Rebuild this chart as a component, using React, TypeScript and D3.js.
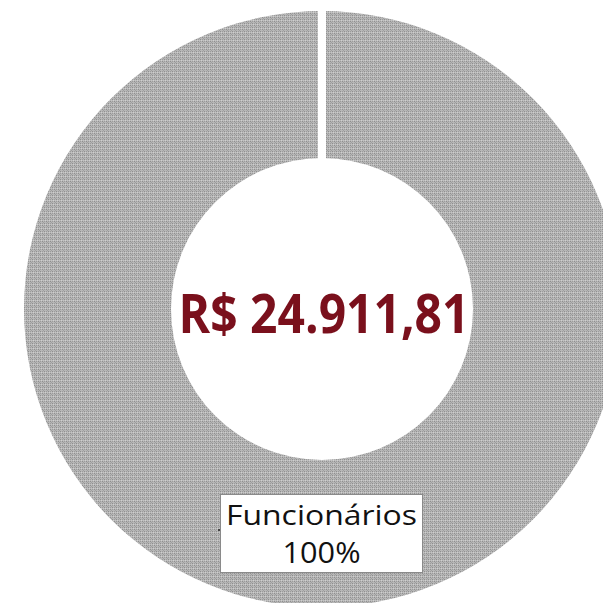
import React from "react";
import * as d3 from "d3";

const categories = ["Funcionários"];
const values = [24911.81];
const totalLabel = "R$ 24.911,81";

const W = 603;
const H = 603;
const cx = 322;
const cy = 309;
const outerR = 298;
const innerR = 151;

export default function App() {
  const pie = d3.pie<number>().sort(null).startAngle(0).endAngle(2 * Math.PI)(values);
  const arc = d3.arc<d3.PieArcDatum<number>>().innerRadius(innerR).outerRadius(outerR);
  const total = d3.sum(values);
  const pct = (v: number) => d3.format(".0%")(v / total);
  return (
    <svg
      width={W}
      height={H}
      style={{ position: "absolute", left: 0, top: 0, background: "#fff" }}
    >
      <defs>
        <pattern id="dots" width="4" height="4" patternUnits="userSpaceOnUse">
          <rect width="4" height="4" fill="#b7b7b7" />
          <rect x="0" y="0" width="1" height="1" fill="#8f8f8f" />
          <rect x="2" y="0" width="1" height="1" fill="#9c9c9c" />
          <rect x="1" y="1" width="1" height="1" fill="#a0a0a0" />
          <rect x="0" y="2" width="1" height="1" fill="#9c9c9c" />
          <rect x="2" y="2" width="1" height="1" fill="#8f8f8f" />
          <rect x="3" y="3" width="1" height="1" fill="#d0d0d0" />
          <rect x="1" y="3" width="1" height="1" fill="#c4c4c4" />
        </pattern>
      </defs>
      <g transform={`translate(${cx},${cy})`}>
        {pie.map((d, i) => (
          <path key={i} d={arc(d) || ""} fill="url(#dots)" />
        ))}
        {pie.map((d, i) => (
          <rect
            key={"gap" + i}
            x={-4}
            y={-outerR - 2}
            width={8}
            height={outerR - innerR + 4}
            fill="#fff"
          />
        ))}
        <text
          x={2}
          y={24}
          textAnchor="middle"
          fontFamily="'Open Sans', 'DejaVu Sans', sans-serif"
          fontWeight="bold"
          fontSize={53}
          fill="#7a101c"
          textLength={291}
          lengthAdjust="spacingAndGlyphs"
        >
          {totalLabel}
        </text>
      </g>
      <line x1={218} y1={530} x2={221} y2={530} stroke="#444" strokeWidth={2} />
      <rect x={220.5} y={494.5} width={202} height={78} fill="#fff" stroke="#8a8a8a" strokeWidth={1} />
      <text
        x={321.5}
        y={525}
        textAnchor="middle"
        fontFamily="'Open Sans', 'Noto Sans', sans-serif"
        fontSize={28}
        fill="#111"
        textLength={191}
        lengthAdjust="spacingAndGlyphs"
      >
        {categories[0]}
      </text>
      <text
        x={321.5}
        y={563}
        textAnchor="middle"
        fontFamily="'Open Sans', 'Noto Sans', sans-serif"
        fontSize={29}
        fill="#111"
        textLength={78}
        lengthAdjust="spacingAndGlyphs"
      >
        {pct(values[0])}
      </text>
    </svg>
  );
}
